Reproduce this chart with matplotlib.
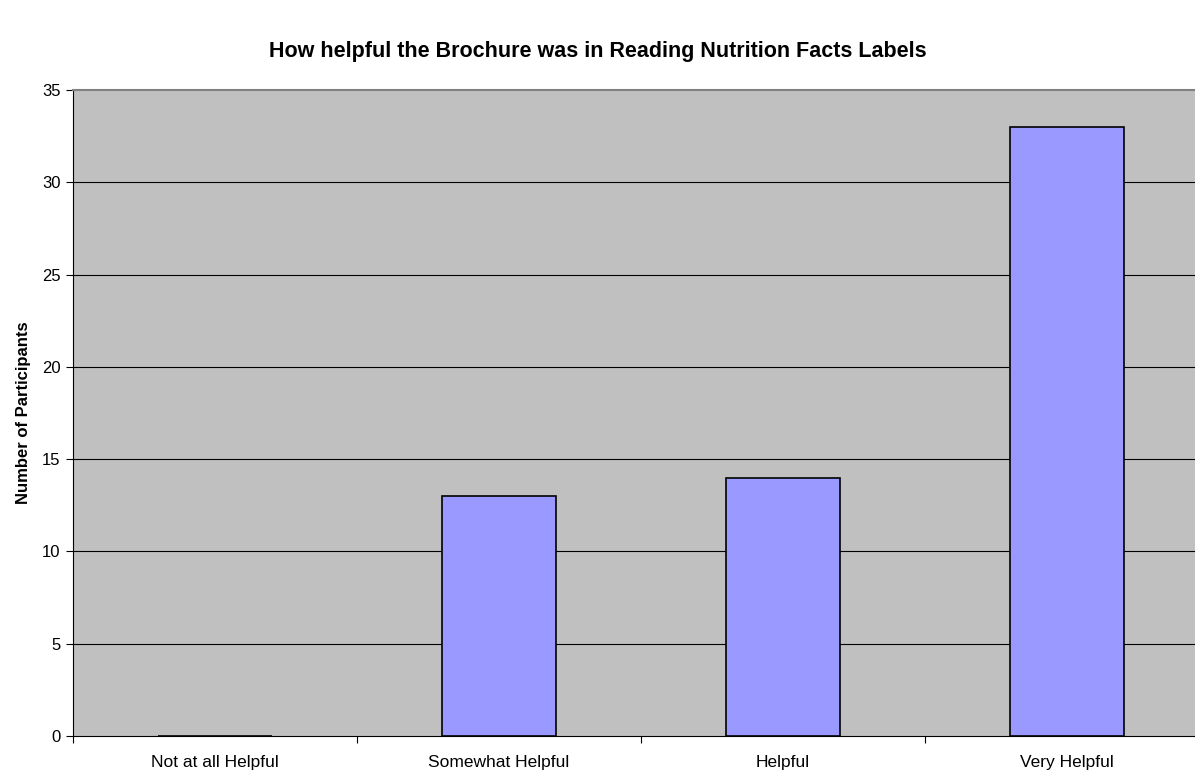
import numpy as np
from matplotlib import pyplot as plt

categories = ["Not at all Helpful", "Somewhat Helpful", "Helpful", "Very Helpful"]
counts = [0, 13, 14, 33]
yticks = [0, 5, 10, 15, 20, 25, 30, 35]

plt.rcParams['font.family'] = ['Liberation Sans', 'DejaVu Sans']

fig = plt.figure(figsize=(11.95, 7.72), dpi=100)
W, H = 1195.0, 772.0
# plot area in pixels: left 73, right 1209 (runs off the image), top 90, bottom 736
ax = fig.add_axes([73 / W, (H - 736) / H, (1209 - 73) / W, (736 - 90) / H])
ax.set_facecolor('#c0c0c0')

x = np.arange(len(categories))
ax.bar(x, counts, width=0.4, color='#9999ff', edgecolor='black', linewidth=1.2, zorder=3)

ax.set_xlim(-0.5, len(categories) - 0.5)
ax.set_ylim(0, 35)
ax.set_yticks(yticks)
ax.set_yticklabels([str(v) for v in yticks], fontsize=12)
for v in yticks[1:-1]:
    ax.axhline(v, color='black', linewidth=0.8, zorder=1)

ax.set_xticks(x)
ax.set_xticklabels(categories, fontsize=12.5)
ax.set_xticks(np.arange(len(categories) + 1) - 0.5, minor=True)
ax.tick_params(axis='x', which='major', length=0, pad=14)
ax.tick_params(axis='x', which='minor', length=5, direction='out', width=0.8)
ax.tick_params(axis='y', length=5, direction='out', width=0.8, pad=4)

ax.spines['left'].set_color('black')
ax.spines['bottom'].set_color('black')
ax.spines['top'].set_color('#808080')
ax.spines['top'].set_linewidth(1.5)
ax.spines['right'].set_visible(False)

ax.set_ylabel("Number of Participants", fontsize=12, fontweight='bold', labelpad=8)
fig.text(0.5, 1 - 52 / H, "How helpful the Brochure was in Reading Nutrition Facts Labels",
         ha='center', va='center', fontsize=15.5, fontweight='bold')

fig.savefig('out.png', dpi=100)
